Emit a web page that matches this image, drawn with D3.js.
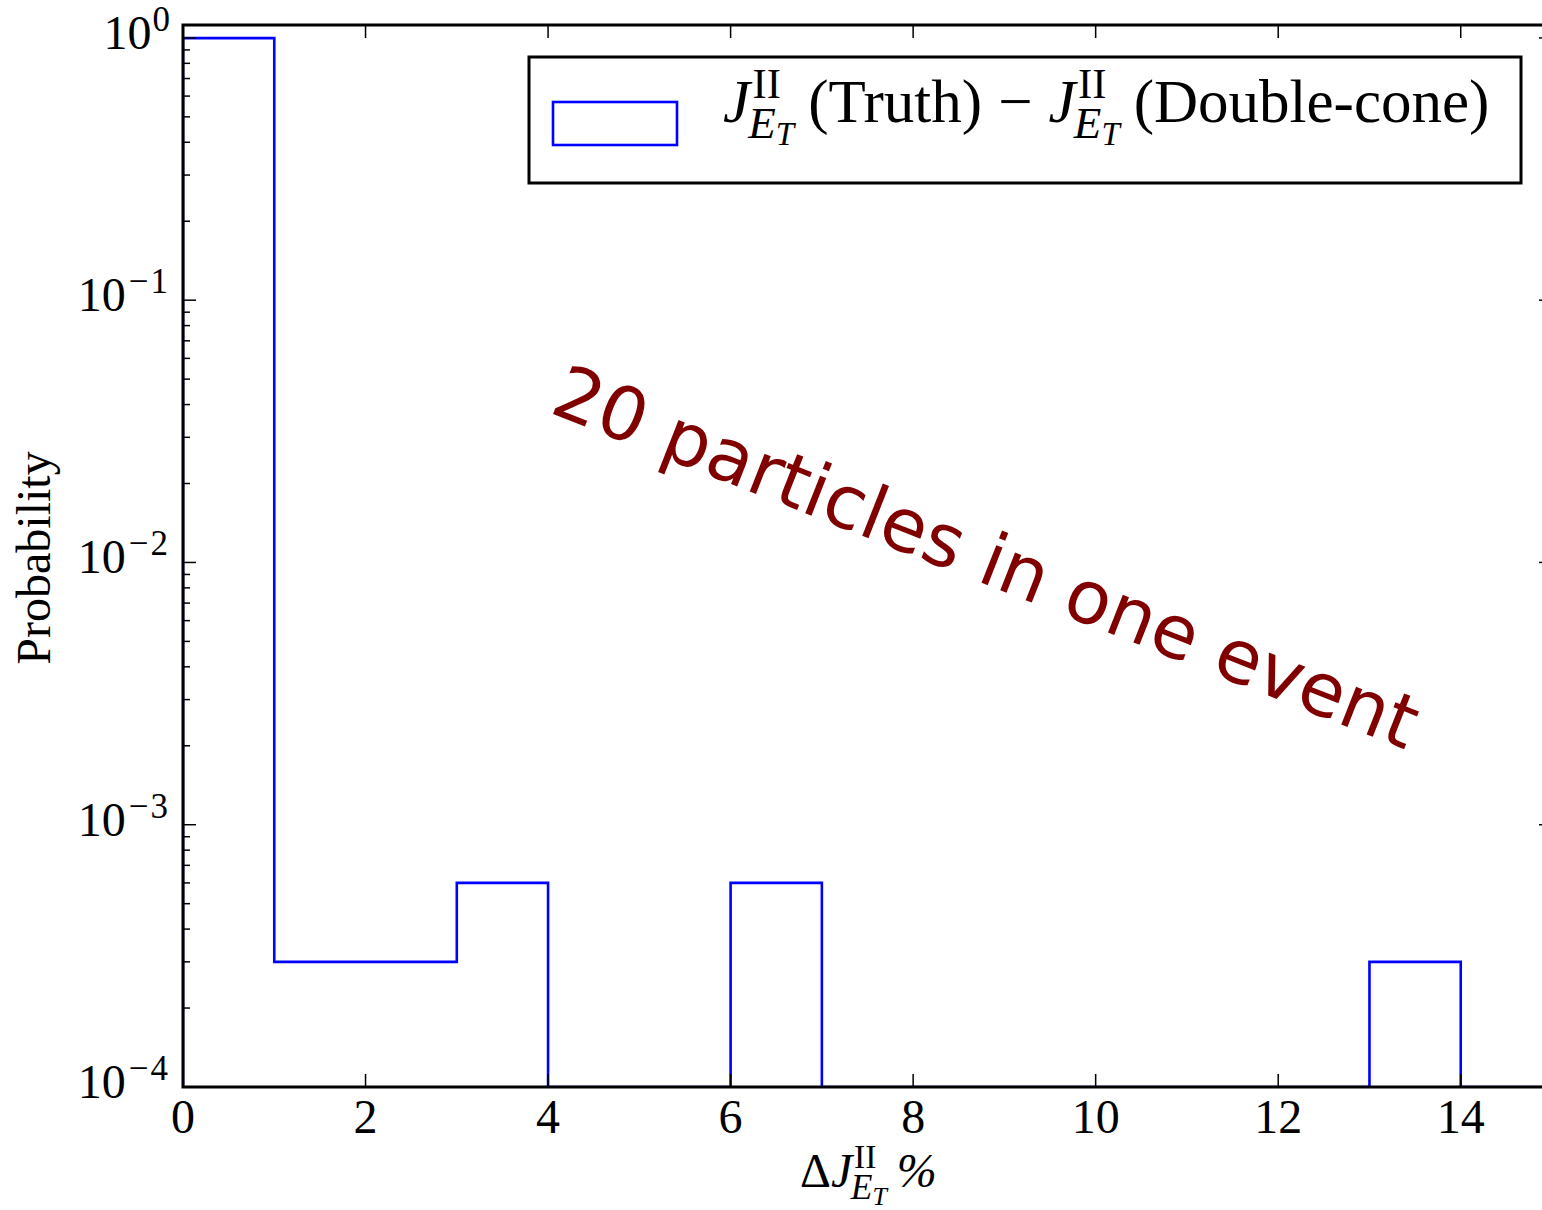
<!DOCTYPE html>
<html>
<head>
<meta charset="utf-8">
<script src="https://cdn.jsdelivr.net/npm/d3@7"></script>
<style>
body { margin: 0; background: #fff; }
text { font-family: "Liberation Serif", "DejaVu Serif", serif; fill: #000; }
</style>
</head>
<body>
<svg id="chart" width="1542" height="1210"></svg>
<script>
// histogram bins (width 1) and probability per bin
let binEdges = [0, 1, 2, 3, 4, 5, 6, 7, 8, 9, 10, 11, 12, 13, 14, 15];
let probability = [0.9979, 0.0003, 0.0003, 0.0006, 0, 0, 0.0006, 0, 0, 0, 0, 0, 0, 0.0003, 0];
let xTicks = [0, 2, 4, 6, 8, 10, 12, 14];
let yTickExponents = [0, -1, -2, -3, -4];
let annotationText = "20 particles in one event";

let svg = d3.select("#chart");

let plotLeft = 183, plotRight = 1552, plotTop = 25, plotBottom = 1087;
let x = d3.scaleLinear().domain([0, 15]).range([plotLeft, plotRight]);
let y = d3.scaleLog().domain([1e-4, 1.12]).range([plotBottom, plotTop]);

svg.append("defs").append("clipPath").attr("id", "plotClip")
	.append("rect").attr("x", plotLeft).attr("y", plotTop).attr("width", plotRight - plotLeft).attr("height", plotBottom - plotTop);

// step outline
let ymin = y.domain()[0];
let pts = [[x(binEdges[0]), y(ymin)]];
probability.forEach(function(v, i) {
	let val = v > 0 ? v : ymin;
	pts.push([x(binEdges[i]), y(val)]);
	pts.push([x(binEdges[i + 1]), y(val)]);
});
pts.push([x(binEdges[binEdges.length - 1]), y(ymin)]);

svg.append("path")
	.attr("d", d3.line()(pts))
	.attr("fill", "none")
	.attr("stroke", "#0000ff")
	.attr("stroke-width", 2.6)
	.attr("clip-path", "url(#plotClip)");

// ticks, inward on all four sides
let ticks = svg.append("g").attr("stroke", "#000");
xTicks.forEach(function(t) {
	ticks.append("line").attr("x1", x(t)).attr("x2", x(t)).attr("y1", plotBottom).attr("y2", plotBottom - 13).attr("stroke-width", 1.5);
	ticks.append("line").attr("x1", x(t)).attr("x2", x(t)).attr("y1", plotTop).attr("y2", plotTop + 13).attr("stroke-width", 1.5);
});
yTickExponents.forEach(function(e) {
	let v = Math.pow(10, e);
	ticks.append("line").attr("x1", plotLeft).attr("x2", plotLeft + 13).attr("y1", y(v)).attr("y2", y(v)).attr("stroke-width", 1.5);
	ticks.append("line").attr("x1", plotRight).attr("x2", plotRight - 13).attr("y1", y(v)).attr("y2", y(v)).attr("stroke-width", 1.5);
	if (e < 0) {
		for (let k = 2; k <= 9; k++) {
			let m = k * v;
			ticks.append("line").attr("x1", plotLeft).attr("x2", plotLeft + 7).attr("y1", y(m)).attr("y2", y(m)).attr("stroke-width", 1.5);
			ticks.append("line").attr("x1", plotRight).attr("x2", plotRight - 7).attr("y1", y(m)).attr("y2", y(m)).attr("stroke-width", 1.5);
		}
	}
});

// frame
svg.append("rect").attr("x", plotLeft).attr("y", plotTop).attr("width", plotRight - plotLeft).attr("height", plotBottom - plotTop)
	.attr("fill", "none").attr("stroke", "#000").attr("stroke-width", 3);

// tick labels
xTicks.forEach(function(t) {
	svg.append("text").attr("x", x(t)).attr("y", 1133).attr("text-anchor", "middle")
		.style("font-size", "48px").text(t);
});
yTickExponents.forEach(function(e) {
	let ty = y(Math.pow(10, e));
	let lab = svg.append("text").attr("x", 170).attr("y", ty + 11).attr("text-anchor", "end").style("font-size", "48px");
	lab.append("tspan").text("10");
	lab.append("tspan").attr("dy", -18).attr("dx", e === 0 ? 1 : 3).style("font-size", "35px")
		.style("letter-spacing", e === 0 ? "0px" : "2px").text(e === 0 ? "0" : "\u2212" + (-e));
});

// J^{II}_{E_T} helper, returns end x
function mathJ(g, x0, y0, fs) {
	let j = g.append("text").attr("x", x0).attr("y", y0).style("font-size", fs + "px").style("font-style", "italic").text("J");
	let jw = j.node().getComputedTextLength();
	let sup = g.append("text").attr("x", x0 + jw + 0.04 * fs).attr("y", y0 - 0.4 * fs).style("font-size", (0.7 * fs) + "px").text("II");
	let supEnd = x0 + jw + 0.04 * fs + sup.node().getComputedTextLength();
	let e = g.append("text").attr("x", x0 + jw - 0.03 * fs).attr("y", y0 + 0.26 * fs).style("font-size", (0.74 * fs) + "px").style("font-style", "italic").text("E");
	let eEnd = x0 + jw - 0.03 * fs + e.node().getComputedTextLength();
	let tt = g.append("text").attr("x", eEnd).attr("y", y0 + 0.38 * fs).style("font-size", (0.54 * fs) + "px").style("font-style", "italic").text("T");
	let subEnd = eEnd + tt.node().getComputedTextLength();
	return Math.max(supEnd, subEnd);
}

function plain(g, x0, y0, fs, s, italic) {
	let t = g.append("text").attr("x", x0).attr("y", y0).style("font-size", fs + "px").text(s);
	if (italic) t.style("font-style", "italic");
	return x0 + t.node().getComputedTextLength();
}

// legend
let legend = svg.append("g");
legend.append("rect").attr("x", 529).attr("y", 57).attr("width", 992).attr("height", 126)
	.attr("fill", "#fff").attr("stroke", "#000").attr("stroke-width", 3);
legend.append("rect").attr("x", 553).attr("y", 102).attr("width", 124).attr("height", 43)
	.attr("fill", "none").attr("stroke", "#0000ff").attr("stroke-width", 2.6);
let lfs = 61;
let cx = mathJ(legend, 723, 122, lfs);
cx = plain(legend, cx + 14, 122, lfs, "(Truth)");
cx = plain(legend, cx + 16, 122, lfs, "\u2212");
cx = mathJ(legend, cx + 16, 122, lfs);
cx = plain(legend, cx + 14, 122, lfs, "(Double-cone)");

// axis labels
svg.append("text").attr("transform", "translate(50,558) rotate(-90)").attr("text-anchor", "middle")
	.style("font-size", "48px").text("Probability");

let xl = svg.append("g");
let px = plain(xl, 800, 1187, 48, "\u0394");
px = mathJ(xl, px, 1187, 48);
plain(xl, px + 10, 1187, 48, "%", true);

// annotation
svg.append("text").attr("transform", "translate(548,412) rotate(21.5)")
	.style("font-family", "'DejaVu Sans', sans-serif").style("font-size", "74px").style("fill", "#800000")
	.text(annotationText);
</script>
</body>
</html>
